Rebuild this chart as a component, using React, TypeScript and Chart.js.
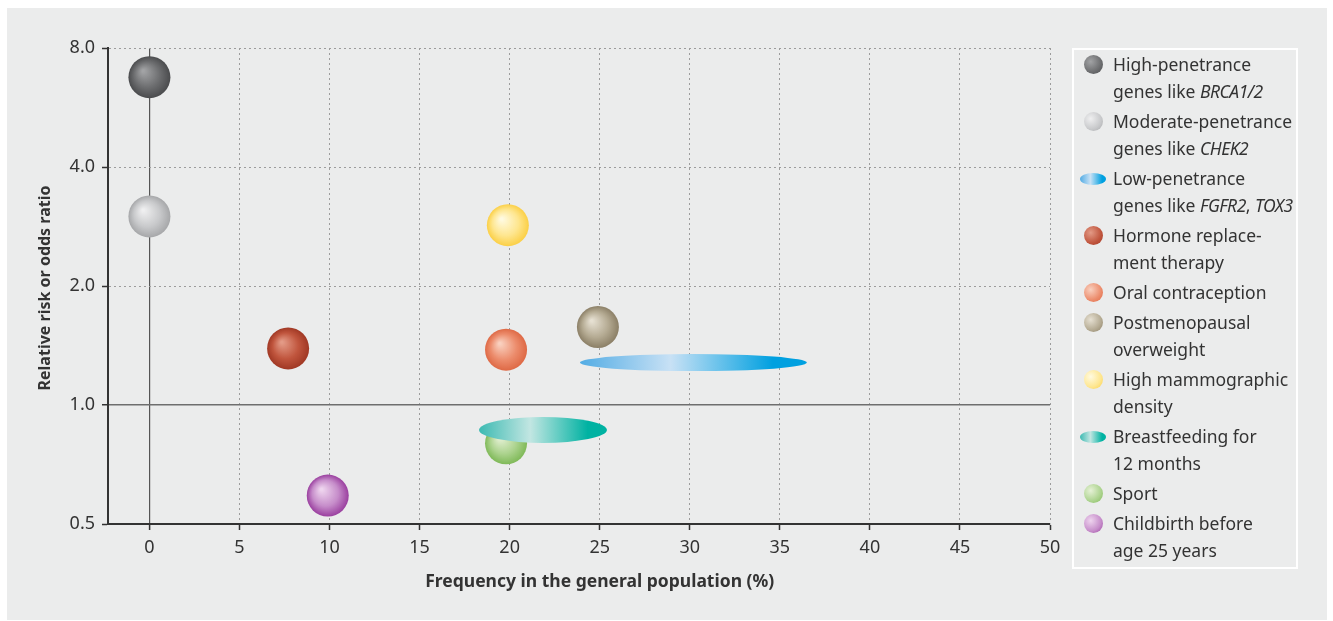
import React, { useEffect, useRef } from "react";
import { Chart, registerables } from "chart.js";

Chart.register(...registerables);

// ---------- data ----------
const seriesLabels = [
  "High-penetrance\ngenes like *BRCA1/2*",
  "Moderate-penetrance\ngenes like *CHEK2*",
  "Low-penetrance\ngenes like *FGFR2*, *TOX3*",
  "Hormone replace-\nment therapy",
  "Oral contraception",
  "Postmenopausal\noverweight",
  "High mammographic\ndensity",
  "Breastfeeding for\n12 months",
  "Sport",
  "Childbirth before\nage 25 years",
];
// frequency in the general population (%) – centre of each marker
const frequency = [0, 0, 30.2, 7.7, 19.8, 24.9, 19.9, 21.8, 19.8, 9.9];
// relative risk / odds ratio
const riskRatio = [6.75, 3.0, 1.28, 1.39, 1.38, 1.575, 2.85, 0.865, 0.8, 0.59];
// frequency ranges (only for the range-type markers)
const frequencyLow: (number | null)[] = [null, null, 23.9, null, null, null, null, 18.3, null, null];
const frequencyHigh: (number | null)[] = [null, null, 36.5, null, null, null, null, 25.4, null, null];
const xTicks = [0, 5, 10, 15, 20, 25, 30, 35, 40, 45, 50];
const yTicks = [0.5, 1, 2, 4, 8];
const xTitle = "Frequency in the general population (%)";
const yTitle = "Relative risk or odds ratio";

// ---------- styles ----------
type Look = { hi: string; mid: string; lo: string; kind: "sphere" | "ellipse"; ry?: number };
const looks: Look[] = [
  { kind: "sphere", hi: "#a2a3a5", mid: "#6c6d6f", lo: "#4a4b4d" },
  { kind: "sphere", hi: "#efeff0", mid: "#c8c9cb", lo: "#a6a7a9" },
  { kind: "ellipse", hi: "#c8e1f5", mid: "#52ace4", lo: "#00a0e0", ry: 8.5 },
  { kind: "sphere", hi: "#e39a86", mid: "#c0553d", lo: "#a03824" },
  { kind: "sphere", hi: "#f9d0bf", mid: "#ec8c6c", lo: "#de6945" },
  { kind: "sphere", hi: "#e6e0d2", mid: "#b4aa92", lo: "#8b7f66" },
  { kind: "sphere", hi: "#fffae0", mid: "#fee68f", lo: "#fbcf45" },
  { kind: "ellipse", hi: "#c2e6e2", mid: "#3cbab2", lo: "#00b2a2", ry: 13 },
  { kind: "sphere", hi: "#e6f1d6", mid: "#acd38e", lo: "#7fb958" },
  { kind: "sphere", hi: "#eed4ee", mid: "#c68dca", lo: "#9a3f9f" },
];
const SPHERE_R = 21;
const FONT = "'Noto Sans', 'Open Sans', sans-serif";
const TEXT = "#333";

function drawSphere(ctx: CanvasRenderingContext2D, x: number, y: number, r: number, l: Look) {
  const g = ctx.createRadialGradient(x - r * 0.3, y - r * 0.3, r * 0.05, x, y, r);
  g.addColorStop(0, l.hi);
  g.addColorStop(0.6, l.mid);
  g.addColorStop(1, l.lo);
  ctx.fillStyle = g;
  ctx.beginPath();
  ctx.arc(x, y, r, 0, Math.PI * 2);
  ctx.fill();
}

function drawEllipse(ctx: CanvasRenderingContext2D, x1: number, x2: number, y: number, ry: number, l: Look) {
  const g = ctx.createLinearGradient(x1, 0, x2, 0);
  g.addColorStop(0, l.mid);
  g.addColorStop(0.4, l.hi);
  g.addColorStop(0.85, l.lo);
  g.addColorStop(1, l.lo);
  ctx.fillStyle = g;
  ctx.beginPath();
  ctx.ellipse((x1 + x2) / 2, y, (x2 - x1) / 2, ry, 0, 0, Math.PI * 2);
  ctx.fill();
}

const markerPlugin = {
  id: "markers",
  afterDatasetsDraw(chart: any) {
    const ctx = chart.ctx as CanvasRenderingContext2D;
    ctx.save();
    const order = looks
      .map((l, i) => i)
      .sort((a, b) => (looks[a].kind === looks[b].kind ? a - b : looks[a].kind === "sphere" ? -1 : 1));
    for (const i of order) {
      const meta = chart.getDatasetMeta(i);
      const l = looks[i];
      if (l.kind === "sphere") {
        const p = meta.data[0];
        drawSphere(ctx, p.x, p.y, SPHERE_R, l);
      } else {
        const a = meta.data[0];
        const b = meta.data[1];
        drawEllipse(ctx, a.x, b.x, a.y, l.ry || 10, l);
      }
    }
    ctx.restore();
  },
  afterDraw(chart: any) {
    const ctx = chart.ctx as CanvasRenderingContext2D;
    const xs = chart.scales.x;
    const ys = chart.scales.y;
    ctx.save();
    ctx.fillStyle = TEXT;
    ctx.textAlign = "center";
    ctx.textBaseline = "middle";
    ctx.font = `bold 17.5px ${FONT}`;
    ctx.fillText(xTitle, xs.getPixelForValue(25), 574);
    ctx.font = `bold 16px ${FONT}`;
    ctx.translate(38, ys.getPixelForValue(2) + 2);
    ctx.rotate(-Math.PI / 2);
    ctx.fillText(yTitle, 0, 0);
    ctx.restore();
  },
};

function renderLabel(text: string) {
  return text.split("\n").map((line, li) => (
    <div key={li} style={{ whiteSpace: "nowrap" }}>
      {line.split(/(\*[^*]+\*)/).map((part, pi) =>
        part.startsWith("*") ? (
          <i key={pi} style={{ letterSpacing: "-0.5px" }}>
            {part.slice(1, -1)}
          </i>
        ) : (
          <span key={pi}>{part}</span>
        )
      )}
    </div>
  ));
}

export default function App() {
  const ref = useRef<HTMLCanvasElement>(null);

  useEffect(() => {
    if (!ref.current) return;
    const datasets = seriesLabels.map((label, i) => {
      const lo = frequencyLow[i];
      const hi = frequencyHigh[i];
      const data =
        lo != null && hi != null
          ? [
              { x: lo, y: riskRatio[i] },
              { x: hi, y: riskRatio[i] },
            ]
          : [{ x: frequency[i], y: riskRatio[i] }];
      return {
        label: label.replace(/\*/g, "").replace("\n", " "),
        data,
        pointRadius: 0,
        pointHoverRadius: 0,
        showLine: false,
        backgroundColor: looks[i].mid,
      };
    });

    const isZero = (c: any) => c.tick && c.tick.value === 0;
    const isOne = (c: any) => c.tick && c.tick.value === 1;

    const chart = new Chart(ref.current, {
      type: "scatter",
      data: { datasets },
      plugins: [markerPlugin],
      options: {
        animation: false,
        responsive: false,
        events: [],
        layout: { padding: { left: 0, right: 277, top: 40, bottom: 0 } },
        plugins: { legend: { display: false }, tooltip: { enabled: false } },
        scales: {
          x: {
            type: "linear",
            min: -2.3,
            max: 50,
            afterBuildTicks: (s: any) => {
              s.ticks = xTicks.map((v) => ({ value: v }));
            },
            afterFit: (s: any) => {
              s.height = 96;
            },
            ticks: {
              color: TEXT,
              font: { family: FONT, size: 18 },
              padding: 7,
              autoSkip: false,
              maxRotation: 0,
            },
            grid: {
              color: (c: any) => (isZero(c) ? "#555" : "#9c9c9c"),
              lineWidth: (c: any) => (isZero(c) ? 1.2 : 1),
              tickLength: 6,
              tickColor: "#333",
              tickWidth: 1.5,
            },
            border: {
              color: "#333",
              width: 2,
              dash: (c: any) => (isZero(c) ? [] : [2, 3]),
            },
          },
          y: {
            type: "logarithmic",
            min: 0.5,
            max: 8,
            afterBuildTicks: (s: any) => {
              s.ticks = yTicks.map((v) => ({ value: v }));
            },
            afterFit: (s: any) => {
              s.width = 101;
            },
            ticks: {
              color: TEXT,
              font: { family: FONT, size: 18 },
              padding: 7,
              autoSkip: false,
              callback: (v: any) => Number(v).toFixed(1),
            },
            grid: {
              color: (c: any) => (isOne(c) ? "#6e6e6e" : "#9c9c9c"),
              lineWidth: (c: any) => (isOne(c) ? 1.5 : 1),
              tickLength: 6,
              tickColor: "#333",
              tickWidth: 1.5,
            },
            border: {
              color: "#333",
              width: 2,
              dash: (c: any) => (isOne(c) ? [] : [2, 3]),
            },
          },
        },
      } as any,
    });
    return () => chart.destroy();
  }, []);

  return (
    <div
      style={{
        position: "absolute",
        left: 7,
        top: 8,
        width: 1320,
        height: 612,
        background: "#ebecec",
        fontFamily: FONT,
      }}
    >
      <canvas ref={ref} width={1320} height={612} style={{ display: "block", width: 1320, height: 612 }} />
      <div
        style={{
          position: "absolute",
          left: 1065,
          top: 40,
          width: 226,
          height: 521,
          boxSizing: "border-box",
          border: "2px solid #fff",
          paddingTop: 1,
          color: TEXT,
          fontSize: 17.5,
          lineHeight: "27px",
        }}
      >
        {seriesLabels.map((label, i) => {
          const l = looks[i];
          const marker =
            l.kind === "sphere" ? (
              <span
                style={{
                  position: "absolute",
                  left: 10,
                  top: 4,
                  width: 19,
                  height: 19,
                  borderRadius: "50%",
                  background: `radial-gradient(circle at 35% 35%, ${l.hi} 0%, ${l.mid} 60%, ${l.lo} 100%)`,
                }}
              />
            ) : (
              <span
                style={{
                  position: "absolute",
                  left: 6,
                  top: 7.5,
                  width: 26,
                  height: 12,
                  borderRadius: "50%",
                  background: `linear-gradient(to right, ${l.mid} 0%, ${l.hi} 40%, ${l.lo} 85%, ${l.lo} 100%)`,
                }}
              />
            );
          return (
            <div key={i} style={{ position: "relative", paddingLeft: 39, marginBottom: 3 }}>
              {marker}
              {renderLabel(label)}
            </div>
          );
        })}
      </div>
    </div>
  );
}
